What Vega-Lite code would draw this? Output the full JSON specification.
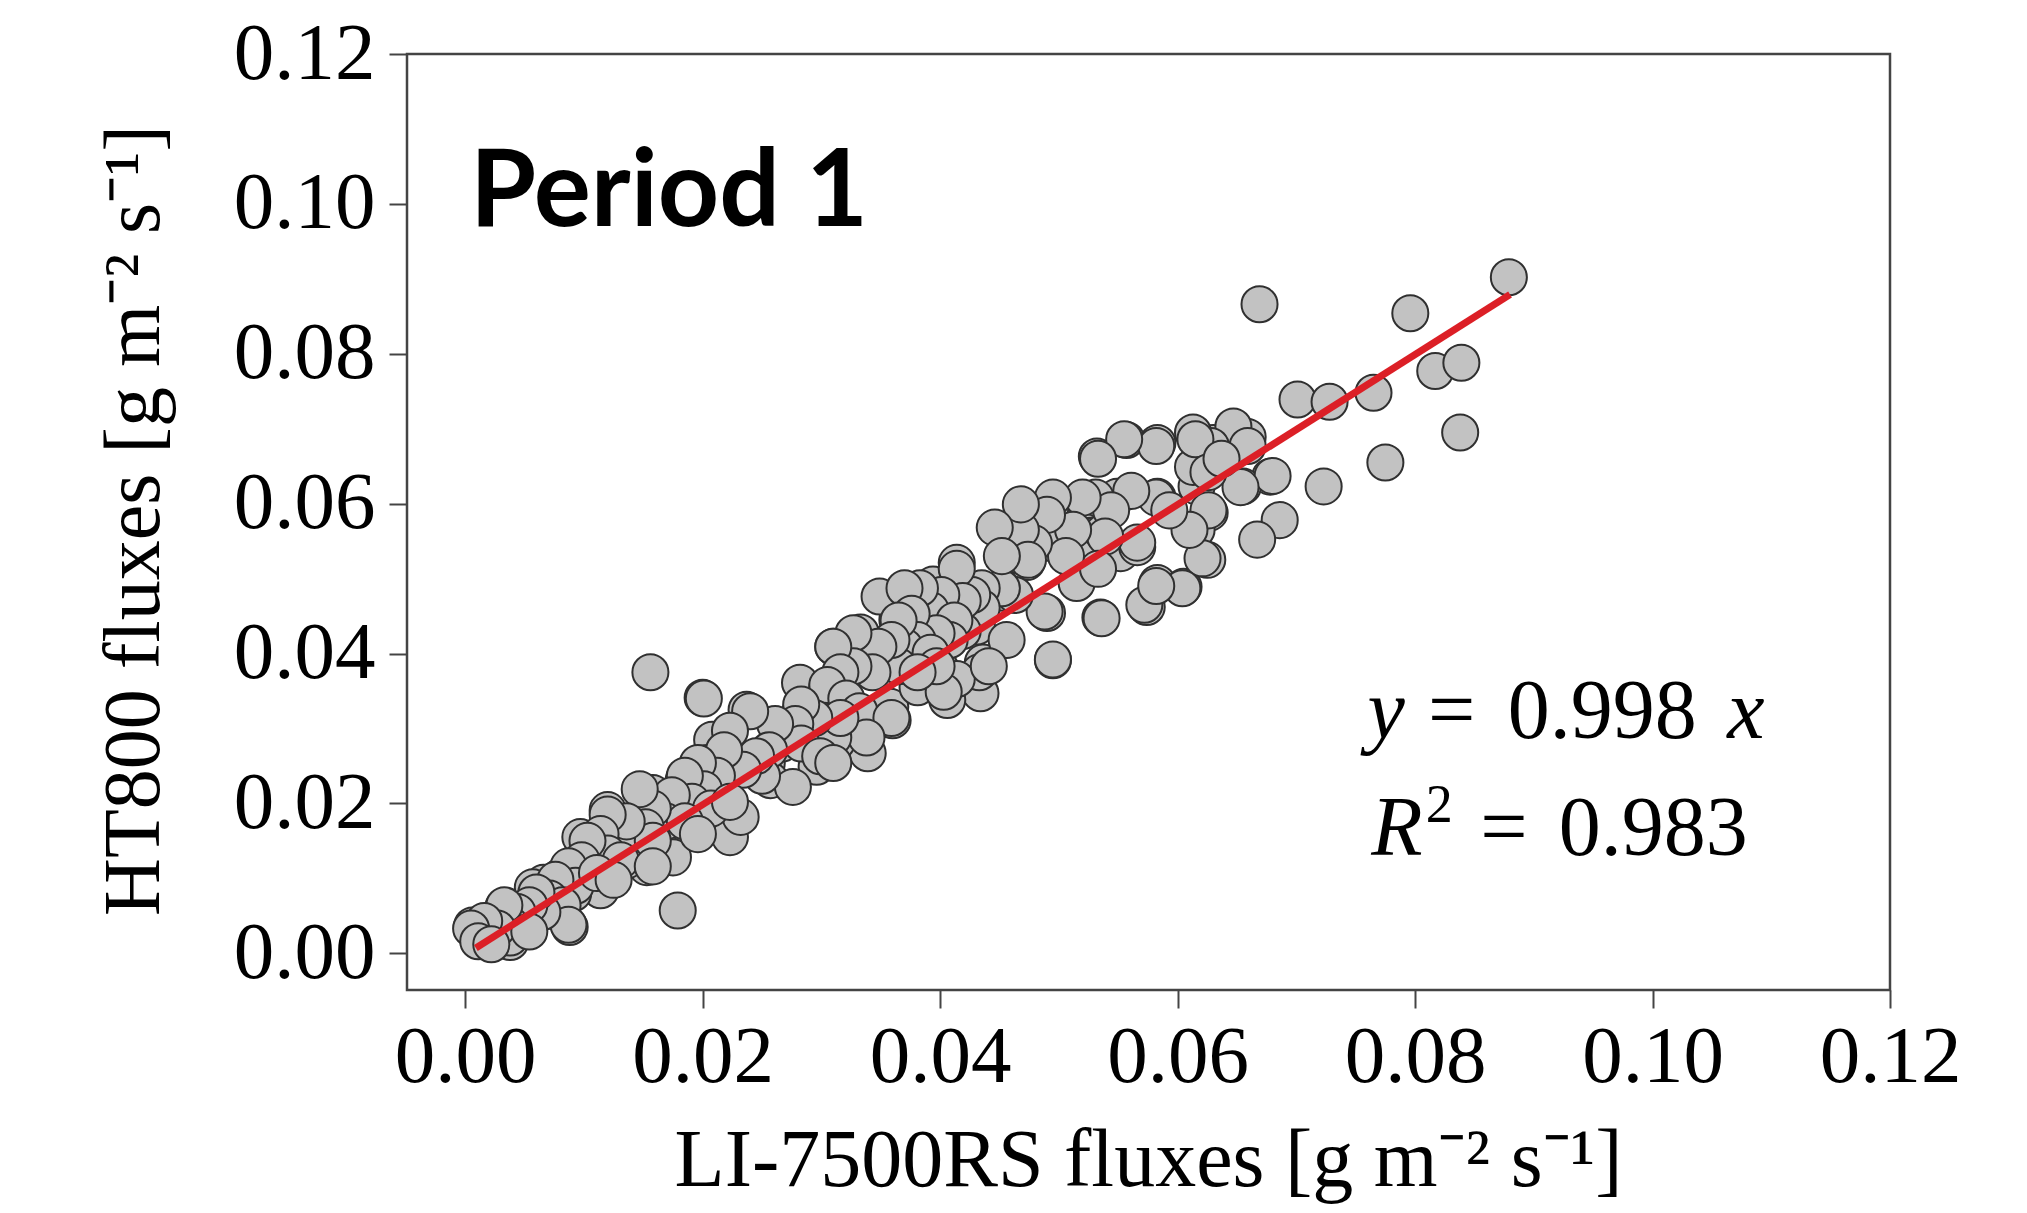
{
  "$schema": "https://vega.github.io/schema/vega-lite/v6.json",
  "width": 1483,
  "height": 936,
  "autosize": "none",
  "padding": {"left": 407, "top": 54, "right": 137, "bottom": 223},
  "background": "white",
  "config": {"view": {"stroke": "#444444", "strokeWidth": 2.5}},
  "datasets": {
    "points": [
      {"li":0.0879,"ht":0.0902},{"li":0.0669,"ht":0.0866},{"li":0.0796,"ht":0.0854},{"li":0.0817,"ht":0.0777},{"li":0.0839,"ht":0.0788},
      {"li":0.0701,"ht":0.0739},{"li":0.0728,"ht":0.0736},{"li":0.0765,"ht":0.0748},{"li":0.0838,"ht":0.0695},{"li":0.0775,"ht":0.0655},{"li":0.0723,"ht":0.0623},{"li":0.0678,"ht":0.0636},{"li":0.0616,"ht":0.0623},{"li":0.0630,"ht":0.0681},{"li":0.0659,"ht":0.0689},{"li":0.0686,"ht":0.0578},{"li":0.0526,"ht":0.0556},{"li":0.0552,"ht":0.0534},
      {"li":0.0532,"ht":0.0663},{"li":0.0557,"ht":0.0685},{"li":0.0583,"ht":0.0681},{"li":0.0613,"ht":0.0695},{"li":0.0647,"ht":0.0703},{"li":0.0613,"ht":0.0649},{"li":0.0655,"ht":0.0623},{"li":0.0627,"ht":0.0588},{"li":0.0616,"ht":0.0565},{"li":0.0625,"ht":0.0525},{"li":0.0667,"ht":0.0552},{"li":0.0583,"ht":0.0609},{"li":0.0549,"ht":0.0609},{"li":0.0524,"ht":0.0605},{"li":0.0493,"ht":0.0596},{"li":0.0465,"ht":0.0565},{"li":0.0473,"ht":0.0522},{"li":0.0490,"ht":0.0548},{"li":0.0518,"ht":0.0534},{"li":0.0537,"ht":0.0561},{"li":0.0566,"ht":0.0542},{"li":0.0515,"ht":0.0494},{"li":0.0490,"ht":0.0454},{"li":0.0535,"ht":0.0448},{"li":0.0574,"ht":0.0462},{"li":0.0583,"ht":0.0494},{"li":0.0605,"ht":0.0489},{"li":0.0495,"ht":0.0391},{"li":0.0453,"ht":0.0481},{"li":0.0414,"ht":0.0521},{"li":0.0394,"ht":0.0492},{"li":0.0369,"ht":0.0481},{"li":0.0364,"ht":0.0445},{"li":0.0423,"ht":0.0469},{"li":0.0406,"ht":0.0432},{"li":0.0333,"ht":0.0428},{"li":0.0333,"ht":0.0387},{"li":0.0366,"ht":0.0409},{"li":0.0400,"ht":0.0381},{"li":0.0436,"ht":0.0388},{"li":0.0434,"ht":0.0347},{"li":0.0406,"ht":0.0338},{"li":0.0358,"ht":0.0329},{"li":0.0389,"ht":0.0369},
      {"li":0.0156,"ht":0.0375},{"li":0.0200,"ht":0.0341},{"li":0.0237,"ht":0.0325},{"li":0.0208,"ht":0.0285},{"li":0.0222,"ht":0.0271},{"li":0.0282,"ht":0.0361},{"li":0.0282,"ht":0.0321},{"li":0.0310,"ht":0.0409},{"li":0.0327,"ht":0.0425},{"li":0.0330,"ht":0.0387},{"li":0.0349,"ht":0.0476},{"li":0.0381,"ht":0.0355},{"li":0.0360,"ht":0.0311},{"li":0.0339,"ht":0.0267},{"li":0.0313,"ht":0.0282},{"li":0.0305,"ht":0.0355},{"li":0.0254,"ht":0.0254},{"li":0.0189,"ht":0.0214},{"li":0.0158,"ht":0.0214},{"li":0.0431,"ht":0.0436},{"li":0.0456,"ht":0.0418},
      {"li":0.0006,"ht":0.0037},{"li":0.0032,"ht":0.0061},{"li":0.0038,"ht":0.0015},{"li":0.0046,"ht":0.0044},{"li":0.0066,"ht":0.0094},{"li":0.0080,"ht":0.0102},{"li":0.0072,"ht":0.0057},{"li":0.0088,"ht":0.0035},{"li":0.0097,"ht":0.0155},{"li":0.0120,"ht":0.0191},{"li":0.0120,"ht":0.0164},{"li":0.0120,"ht":0.0115},{"li":0.0114,"ht":0.0084},{"li":0.0153,"ht":0.0115},{"li":0.0158,"ht":0.0195},{"li":0.0158,"ht":0.0164},{"li":0.0179,"ht":0.0057},{"li":0.0184,"ht":0.0231},{"li":0.0189,"ht":0.0168},{"li":0.0175,"ht":0.0128},{"li":0.0221,"ht":0.0200},{"li":0.0223,"ht":0.0155},{"li":0.0232,"ht":0.0182},{"li":0.0257,"ht":0.0231},{"li":0.0296,"ht":0.0249},{"li":0.0276,"ht":0.0222},{"li":0.0204,"ht":0.0254},{"li":0.0136,"ht":0.0124},{"li":0.0091,"ht":0.0080},{"li":0.0057,"ht":0.0088},
      {"li":0.0680,"ht":0.0637},{"li":0.0653,"ht":0.0622},{"li":0.0659,"ht":0.0677},{"li":0.0628,"ht":0.0677},{"li":0.0615,"ht":0.0686},{"li":0.0626,"ht":0.0642},{"li":0.0637,"ht":0.0660},{"li":0.0626,"ht":0.0591},{"li":0.0621,"ht":0.0527},{"li":0.0610,"ht":0.0565},{"li":0.0604,"ht":0.0487},{"li":0.0582,"ht":0.0677},{"li":0.0582,"ht":0.0608},{"li":0.0593,"ht":0.0591},{"li":0.0572,"ht":0.0465},{"li":0.0582,"ht":0.0490},{"li":0.0555,"ht":0.0686},{"li":0.0561,"ht":0.0617},{"li":0.0566,"ht":0.0548},{"li":0.0533,"ht":0.0660},{"li":0.0531,"ht":0.0608},{"li":0.0544,"ht":0.0591},{"li":0.0539,"ht":0.0556},{"li":0.0533,"ht":0.0513},{"li":0.0536,"ht":0.0447},{"li":0.0520,"ht":0.0608},{"li":0.0512,"ht":0.0565},{"li":0.0506,"ht":0.0530},{"li":0.0495,"ht":0.0608},{"li":0.0490,"ht":0.0585},{"li":0.0488,"ht":0.0456},{"li":0.0495,"ht":0.0392},{"li":0.0479,"ht":0.0547},{"li":0.0468,"ht":0.0530},{"li":0.0468,"ht":0.0565},{"li":0.0463,"ht":0.0478},{"li":0.0452,"ht":0.0487},{"li":0.0468,"ht":0.0599},{"li":0.0474,"ht":0.0525},{"li":0.0446,"ht":0.0568},{"li":0.0452,"ht":0.0530},{"li":0.0435,"ht":0.0487},{"li":0.0435,"ht":0.0461},{"li":0.0419,"ht":0.0430},{"li":0.0427,"ht":0.0478},{"li":0.0414,"ht":0.0513},{"li":0.0419,"ht":0.0470},{"li":0.0401,"ht":0.0478},{"li":0.0392,"ht":0.0458},{"li":0.0412,"ht":0.0444},{"li":0.0408,"ht":0.0418},{"li":0.0397,"ht":0.0427},{"li":0.0383,"ht":0.0487},{"li":0.0370,"ht":0.0487},{"li":0.0376,"ht":0.0453},{"li":0.0381,"ht":0.0418},{"li":0.0370,"ht":0.0409},{"li":0.0365,"ht":0.0383},{"li":0.0392,"ht":0.0401},{"li":0.0433,"ht":0.0375},{"li":0.0414,"ht":0.0366},{"li":0.0403,"ht":0.0349},{"li":0.0441,"ht":0.0383},{"li":0.0397,"ht":0.0383},{"li":0.0381,"ht":0.0375},{"li":0.0365,"ht":0.0444},{"li":0.0359,"ht":0.0418},{"li":0.0348,"ht":0.0409},{"li":0.0343,"ht":0.0375},{"li":0.0327,"ht":0.0427},{"li":0.0327,"ht":0.0383},{"li":0.0310,"ht":0.0409},{"li":0.0316,"ht":0.0375},{"li":0.0305,"ht":0.0358},{"li":0.0321,"ht":0.0340},{"li":0.0332,"ht":0.0323},{"li":0.0359,"ht":0.0314},{"li":0.0338,"ht":0.0288},{"li":0.0310,"ht":0.0288},{"li":0.0316,"ht":0.0314},{"li":0.0294,"ht":0.0314},{"li":0.0283,"ht":0.0332},{"li":0.0278,"ht":0.0306},{"li":0.0267,"ht":0.0280},{"li":0.0283,"ht":0.0280},{"li":0.0299,"ht":0.0263},{"li":0.0310,"ht":0.0254},{"li":0.0261,"ht":0.0306},{"li":0.0256,"ht":0.0271},{"li":0.0250,"ht":0.0237},{"li":0.0245,"ht":0.0263},{"li":0.0234,"ht":0.0245},{"li":0.0240,"ht":0.0323},{"li":0.0223,"ht":0.0297},{"li":0.0218,"ht":0.0271},{"li":0.0212,"ht":0.0237},{"li":0.0201,"ht":0.0340},{"li":0.0196,"ht":0.0254},{"li":0.0201,"ht":0.0219},{"li":0.0185,"ht":0.0237},{"li":0.0191,"ht":0.0202},{"li":0.0207,"ht":0.0193},{"li":0.0223,"ht":0.0202},{"li":0.0174,"ht":0.0211},{"li":0.0169,"ht":0.0176},{"li":0.0185,"ht":0.0176},{"li":0.0196,"ht":0.0159},{"li":0.0158,"ht":0.0193},{"li":0.0152,"ht":0.0168},{"li":0.0142,"ht":0.0150},{"li":0.0147,"ht":0.0219},{"li":0.0158,"ht":0.0150},{"li":0.0136,"ht":0.0176},{"li":0.0120,"ht":0.0185},{"li":0.0114,"ht":0.0159},{"li":0.0120,"ht":0.0133},{"li":0.0131,"ht":0.0124},{"li":0.0158,"ht":0.0116},{"li":0.0103,"ht":0.0150},{"li":0.0098,"ht":0.0124},{"li":0.0087,"ht":0.0116},{"li":0.0093,"ht":0.0090},{"li":0.0076,"ht":0.0098},{"li":0.0071,"ht":0.0073},{"li":0.0082,"ht":0.0064},{"li":0.0087,"ht":0.0038},{"li":0.0065,"ht":0.0055},{"li":0.0060,"ht":0.0081},{"li":0.0054,"ht":0.0064},{"li":0.0044,"ht":0.0055},{"li":0.0038,"ht":0.0038},{"li":0.0033,"ht":0.0064},{"li":0.0038,"ht":0.0021},{"li":0.0027,"ht":0.0033},{"li":0.0016,"ht":0.0043},{"li":0.0005,"ht":0.0033},{"li":0.0011,"ht":0.0016},{"li":0.0022,"ht":0.0012},{"li":0.0111,"ht":0.0107},{"li":0.0125,"ht":0.0098},{"li":0.0054,"ht":0.0029}
    ],
    "fit": [{"li":0.0009,"ht":0.0007},{"li":0.0880,"ht":0.0879}],
    "italic": [
      {"li":0.0760,"ht":0.0287,"t":"y"},
      {"li":0.1063,"ht":0.0287,"t":"x"},
      {"li":0.0763,"ht":0.0131,"t":"R"}
    ],
    "roman": [
      {"li":0.0811,"ht":0.0287,"t":"="},
      {"li":0.0878,"ht":0.0287,"t":"0.998"},
      {"li":0.0855,"ht":0.0131,"t":"="},
      {"li":0.0921,"ht":0.0131,"t":"0.983"}
    ],
    "sup": [{"li":0.0809,"ht":0.0175,"t":"2"}],
    "label": [{"li":0.0004,"ht":0.0971,"t":"Period 1"}]
  },
  "encoding": {
    "x": {
      "field": "li", "type": "quantitative",
      "scale": {"domain": [-0.0049, 0.12], "nice": false, "zero": false},
      "axis": {
        "values": [0, 0.02, 0.04, 0.06, 0.08, 0.1, 0.12],
        "format": ".2f", "grid": false, "domain": false,
        "tickSize": 18, "tickWidth": 2, "tickColor": "#444444",
        "labelFont": "Liberation Serif", "labelFontSize": 81, "labelColor": "#000000",
        "labelBaseline": "alphabetic", "labelPadding": 73, "labelFlush": false, "labelOverlap": false,
        "title": "LI-7500RS fluxes [g m⁻² s⁻¹]",
        "titleFont": "Liberation Serif", "titleFontSize": 82, "titleFontWeight": "normal", "titleColor": "#000000",
        "titleBaseline": "alphabetic", "titleX": 741, "titleY": 195, "titleAlign": "center"
      }
    },
    "y": {
      "field": "ht", "type": "quantitative",
      "scale": {"domain": [-0.0049, 0.12], "nice": false, "zero": false},
      "axis": {
        "values": [0, 0.02, 0.04, 0.06, 0.08, 0.1, 0.12],
        "format": ".2f", "grid": false, "domain": false,
        "tickSize": 18, "tickWidth": 2, "tickColor": "#444444",
        "labelFont": "Liberation Serif", "labelFontSize": 81, "labelColor": "#000000",
        "labelPadding": 14, "labelFlush": false, "labelOverlap": false,
        "title": "HT800 fluxes [g m⁻² s⁻¹]",
        "titleFont": "Liberation Serif", "titleFontSize": 80, "titleFontWeight": "normal", "titleColor": "#000000",
        "titleBaseline": "alphabetic", "titleX": -249, "titleY": 466, "titleAlign": "center", "titleAngle": 270
      }
    }
  },
  "layer": [
    {
      "data": {"name": "points"},
      "mark": {"type": "circle", "size": 1300, "fill": "#c2c2c2", "fillOpacity": 1, "stroke": "#303030", "strokeWidth": 2, "opacity": 1}
    },
    {
      "data": {"name": "fit"},
      "mark": {"type": "line", "color": "#dc1f26", "strokeWidth": 7}
    },
    {
      "data": {"name": "label"},
      "mark": {"type": "text", "font": "Lato", "fontWeight": "bold", "fontSize": 107, "align": "left", "baseline": "alphabetic", "color": "#000000"},
      "encoding": {"text": {"field": "t"}}
    },
    {
      "data": {"name": "italic"},
      "mark": {"type": "text", "font": "Liberation Serif", "fontStyle": "italic", "fontSize": 84, "align": "left", "baseline": "alphabetic", "color": "#000000"},
      "encoding": {"text": {"field": "t"}}
    },
    {
      "data": {"name": "roman"},
      "mark": {"type": "text", "font": "Liberation Serif", "fontSize": 84, "align": "left", "baseline": "alphabetic", "color": "#000000"},
      "encoding": {"text": {"field": "t"}}
    },
    {
      "data": {"name": "sup"},
      "mark": {"type": "text", "font": "Liberation Serif", "fontSize": 54, "align": "left", "baseline": "alphabetic", "color": "#000000"},
      "encoding": {"text": {"field": "t"}}
    }
  ]
}
